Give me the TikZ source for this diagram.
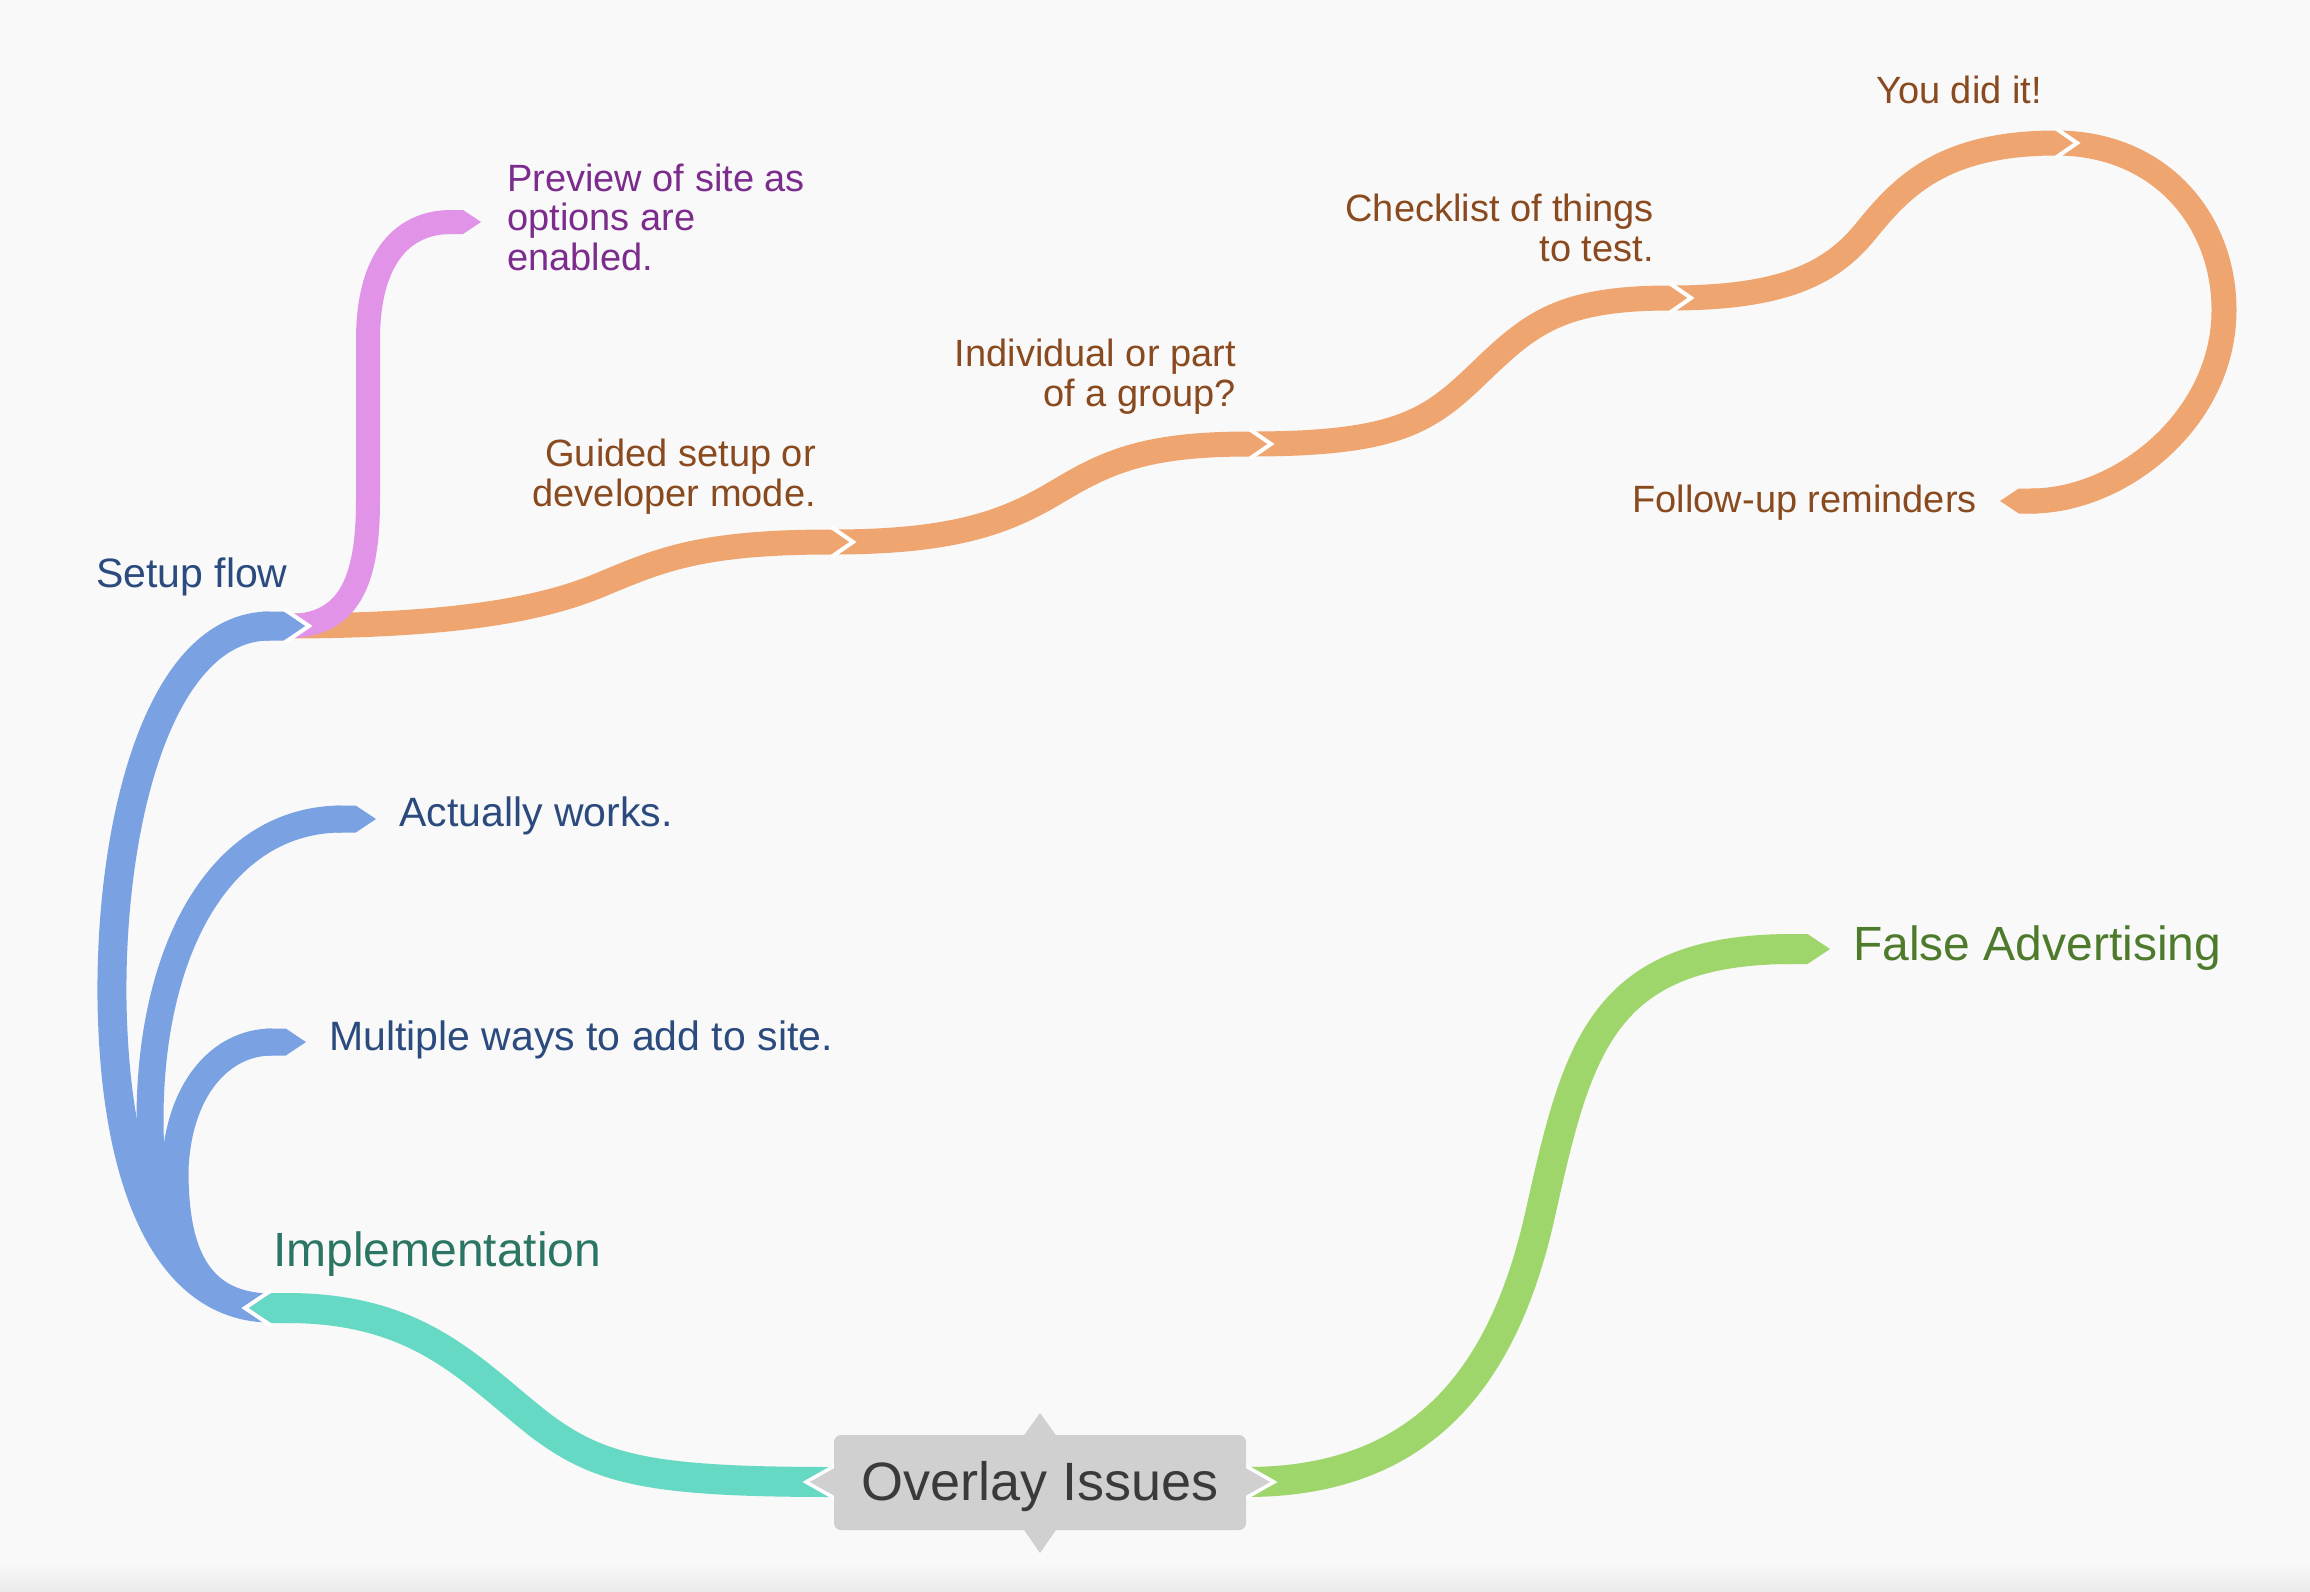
\documentclass[tikz,border=0pt]{standalone}
\usepackage{fontspec}
\setmainfont{Liberation Sans}
\usetikzlibrary{arrows.meta,calc}
\definecolor{bg}{HTML}{F9F9F9}
\definecolor{blueL}{HTML}{7AA2E3}
\definecolor{pinkL}{HTML}{E194E7}
\definecolor{orangeL}{HTML}{EFA56F}
\definecolor{tealL}{HTML}{66D9C4}
\definecolor{greenL}{HTML}{9FD66B}
\definecolor{boxG}{HTML}{D0D0D0}
\definecolor{blueT}{HTML}{2B4A7E}
\definecolor{purpleT}{HTML}{7B2C8C}
\definecolor{brownT}{HTML}{8A4A1F}
\definecolor{implT}{HTML}{2A7563}
\definecolor{falseT}{HTML}{4E7A2C}
\definecolor{overT}{HTML}{3A3A3A}
\tikzset{
  br/.style={line cap=butt, line join=round},
  tipped/.style={-{Triangle Cap[length=+0pt .75]}},
  chev/.style={draw=white, line width=4pt, line join=miter, line cap=butt},
  small/.style={inner sep=0pt, font=\fontsize{38pt}{39.5pt}\selectfont},
  mid/.style={inner sep=0pt, font=\fontsize{41pt}{42pt}\selectfont},
  big/.style={inner sep=0pt, font=\fontsize{48pt}{50pt}\selectfont},
}
\newcommand{\chevR}[3]{\draw[chev] ($(#1)+(0,-#2)$) -- ($(#1)+(#3,0)$) -- ($(#1)+(0,#2)$);}
\newcommand{\chevL}[3]{\draw[chev] ($(#1)+(0,-#2)$) -- ($(#1)+(-#3,0)$) -- ($(#1)+(0,#2)$);}
\begin{document}
\begin{tikzpicture}[x=1pt,y=-1pt]
% background
\fill[bg] (0,0) rectangle (2310,1592);
\shade[top color=bg, bottom color=black!8] (0,1560) rectangle (2310,1592);
\useasboundingbox (0,0) rectangle (2310,1592);

% junctions and ends
\coordinate (root) at (1040,1482);
\coordinate (rootL) at (834,1482);
\coordinate (rootR) at (1246,1482);
\coordinate (jImpl) at (271,1308);
\coordinate (jImplTip) at (249,1308);
\coordinate (jSetup) at (284,626);
\coordinate (jSetupTip) at (306,626);
\coordinate (jGuided) at (832,542);
\coordinate (jIndiv) at (1250,444);
\coordinate (jCheck) at (1670,298);
\coordinate (jYou) at (2056,143);
\coordinate (eFollow) at (2000,501);
\coordinate (ePreview) at (481,222);
\coordinate (eActually) at (376,819);
\coordinate (eMultiple) at (306,1042);
\coordinate (eFalse) at (1830,949);

% orange chain (Setup flow children)
\draw[br, orangeL, line width=25pt, tipped] (jSetup)
  .. controls (450,626) and (540,610) .. (600,585)
  .. controls (660,560) and (700,542) .. (jGuided)
  .. controls (960,542) and (1010,520) .. (1060,490)
  .. controls (1110,460) and (1150,444) .. (jIndiv)
  .. controls (1400,444) and (1430,420) .. (1480,372)
  .. controls (1530,324) and (1560,298) .. (jCheck)
  .. controls (1780,298) and (1830,275) .. (1865,232)
  .. controls (1900,189) and (1940,143) .. (jYou)
  .. controls (2160,143) and (2224,220) .. (2224,310)
  .. controls (2224,420) and (2120,501) .. (eFollow);

% pink branch
\draw[br, pinkL, line width=24pt, tipped] (jSetup)
  .. controls (350,628) and (368,580) .. (368,500)
  -- (368,340)
  .. controls (368,255) and (405,222) .. (ePreview);

% blue branches (Implementation children)
\draw[br, blueL, line width=27pt, tipped] (jImpl)
  .. controls (185,1305) and (150,1230) .. (150,1120)
  .. controls (150,950) and (220,819) .. (eActually);
\draw[br, blueL, line width=27pt, tipped] (jImpl)
  .. controls (195,1305) and (175,1250) .. (175,1170)
  .. controls (178,1090) and (220,1042) .. (eMultiple);
\draw[br, blueL, line width=29pt, tipped] (jImpl)
  .. controls (175,1308) and (115,1200) .. (112,1000)
  .. controls (110,820) and (160,626) .. (jSetupTip);
\chevR{jSetup}{17}{25}

% teal (root -> Implementation)
\draw[br, tealL, line width=30pt, tipped] (rootL)
  .. controls (650,1482) and (600,1470) .. (540,1425)
  .. controls (470,1370) and (420,1308) .. (jImplTip);
\chevL{jImpl}{17.5}{26}

% green (root -> False Advertising)
\draw[br, greenL, line width=30pt, tipped] (rootR)
  .. controls (1420,1482) and (1503,1380) .. (1540,1215)
  .. controls (1577,1050) and (1600,949) .. (eFalse);

% orange junction chevrons
\chevR{jGuided}{14.5}{21}
\chevR{jIndiv}{14.5}{21}
\chevR{jCheck}{14.5}{21}
\chevR{jYou}{14.5}{21}

% root box
\filldraw[fill=boxG, draw=white, line width=3.5pt, line join=miter] (836,1465) -- (806,1482) -- (836,1499);
\filldraw[fill=boxG, draw=white, line width=3.5pt, line join=miter] (1244,1465) -- (1274,1482) -- (1244,1499);
\fill[boxG] (1022,1438) -- (1040,1413) -- (1058,1438) -- cycle;
\fill[boxG] (1022,1527) -- (1040,1553) -- (1058,1527) -- cycle;
\fill[boxG, rounded corners=7pt] (834,1435) rectangle (1246,1530);
\node[inner sep=0pt, anchor=base, text=overT, font=\fontsize{54pt}{56pt}\selectfont] (overlay) at (1040,1500) {Overlay Issues};

% labels (multi-line nodes: base = last line)
\node[small, text=purpleT, align=left, anchor=base west] (preview) at (507,270) {Preview of site as\\options are\\enabled.};
\node[small, text=brownT, align=right, anchor=base east] (guided) at (816,506) {Guided setup or\\developer mode.};
\node[small, text=brownT, align=right, anchor=base east] (indiv) at (1236,406) {Individual or part\\of a group?};
\node[small, text=brownT, align=right, anchor=base east] (check) at (1654,261) {Checklist of things\\to test.};
\node[small, text=brownT, anchor=base west] (you) at (1876,104) {You did it!};
\node[small, text=brownT, anchor=base east] (follow) at (1977,512) {Follow-up reminders};
\node[mid, text=blueT, anchor=base west] (setup) at (96,587) {Setup flow};
\node[mid, text=blueT, anchor=base west] (actually) at (399,826) {Actually works.};
\node[mid, text=blueT, anchor=base west] (multiple) at (329,1050) {Multiple ways to add to site.};
\node[big, text=implT, anchor=base west] (impl) at (273,1266) {Implementation};
\node[big, text=falseT, anchor=base west] (false) at (1853,960) {False Advertising};
\end{tikzpicture}
\end{document}
